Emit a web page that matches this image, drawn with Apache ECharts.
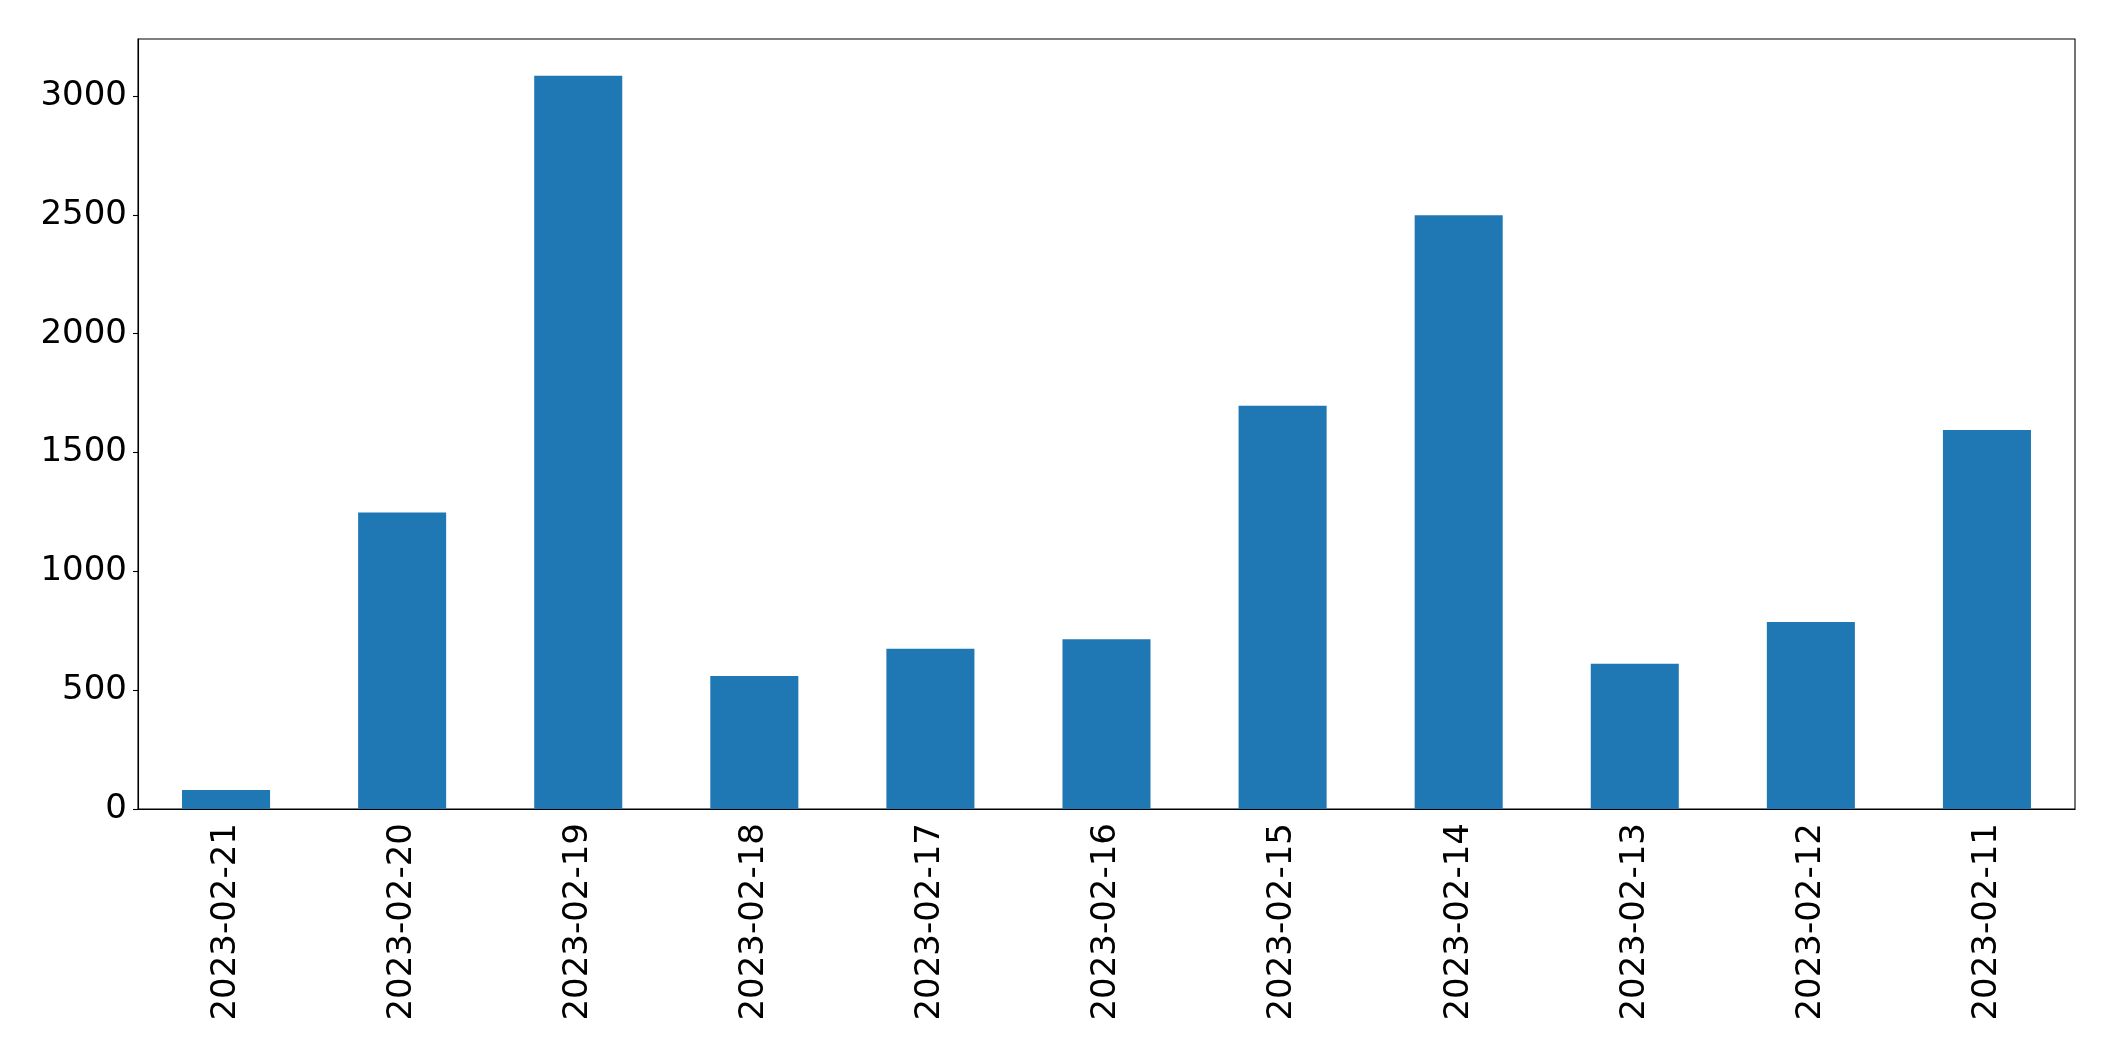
<!DOCTYPE html>
<html>
<head>
<meta charset="utf-8">
<script src="https://cdn.jsdelivr.net/npm/echarts@6/dist/echarts.min.js"></script>
<style>
  html, body { margin: 0; padding: 0; background: #fff; }
  #chart { width: 2115px; height: 1061px; }
</style>
</head>
<body>
<div id="chart"></div>
<script>
const dates = ['2023-02-21', '2023-02-20', '2023-02-19', '2023-02-18', '2023-02-17', '2023-02-16',
  '2023-02-15', '2023-02-14', '2023-02-13', '2023-02-12', '2023-02-11']
const counts = [80, 1248, 3085, 560, 674, 714, 1697, 2498, 611, 787, 1595]
const yTicks = [0, 500, 1000, 1500, 2000, 2500, 3000]

const chart = echarts.init(document.getElementById('chart'))

const font = 'DejaVu Sans'

chart.setOption({
  animation: false,
  grid: {
    left: 138, right: 40, top: 39, bottom: 252,
    show: true, borderColor: '#000', borderWidth: 1.1, backgroundColor: 'transparent'
  },
  xAxis: {
    type: 'category',
    data: dates,
    axisLine: { lineStyle: { color: '#000', width: 1.1 } },
    axisTick: { alignWithLabel: true, length: 5, lineStyle: { color: '#000', width: 1.1 } },
    axisLabel: {
      interval: 0, rotate: 90, margin: 14,
      color: '#000', fontSize: 34, fontFamily: font
    }
  },
  yAxis: {
    type: 'value',
    min: 0,
    max: 3240,
    splitLine: { show: false },
    axisLine: { show: true, lineStyle: { color: '#000', width: 1.1 } },
    axisTick: { show: true, length: 5, customValues: yTicks, lineStyle: { color: '#000', width: 1.1 } },
    axisLabel: {
      margin: 11, color: '#000', fontSize: 34, fontFamily: font,
      padding: [8, 0, 0, 0],
      customValues: yTicks,
      formatter: v => String(v)
    }
  },
  series: [{
    type: 'bar',
    data: counts,
    barWidth: '50%',
    itemStyle: { color: '#1f77b4' }
  }]
})
</script>
</body>
</html>
